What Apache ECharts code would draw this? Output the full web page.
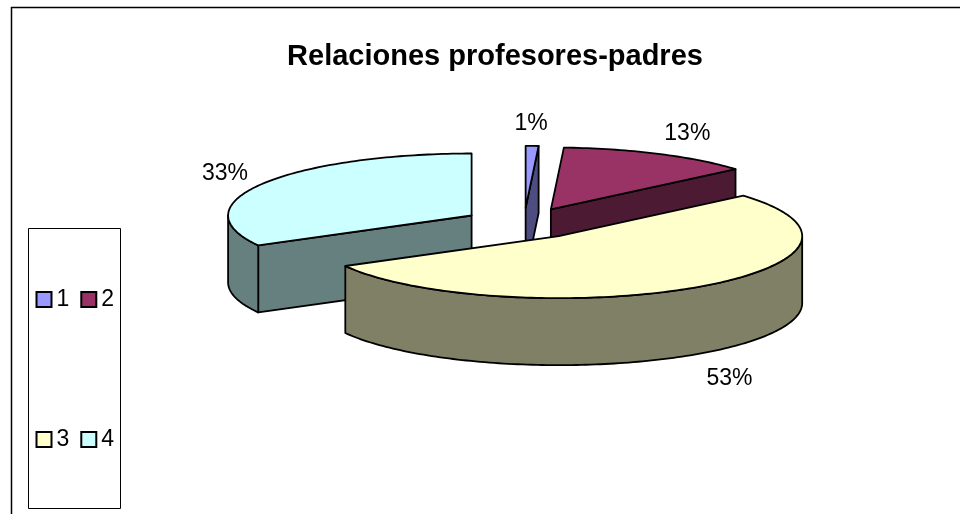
<!DOCTYPE html>
<html>
<head>
<meta charset="utf-8">
<style>html,body{margin:0;padding:0;background:#fff;overflow:hidden}#c{width:960px;height:514px}</style>
<script src="https://cdn.jsdelivr.net/npm/echarts@6/dist/echarts.min.js"></script>
</head>
<body>
<div id="c"></div>
<script>
var titleText = 'Relaciones profesores-padres';
var categories = ['1', '2', '3', '4'];
var values = [0.85, 12.85, 53.3, 33];
var colors = ['#9999FF', '#993366', '#FFFFCC', '#CCFFFF'];

// projection of the tilted pie
var geo = { cx: 524, cy: 223.4, rx: 243.5, ry: 62, depth: 67, explode: 0.25 };
var labelOffsets = [[-1, -22], [29, -20], [32, 25], [-37, -10]];
var FONT = '"Liberation Sans", Arial, sans-serif';

var total = values.reduce(function (a, b) { return a + b; }, 0);
var chart = echarts.init(document.getElementById('c'));

function sliceAngles(i, v) {
  var before = 0;
  for (var k = 0; k < i; k++) before += values[k];
  var a0 = before / total * Math.PI * 2;
  return [a0, a0 + v / total * Math.PI * 2];
}
function rim(apex, a, dy) {
  return [apex[0] + Math.sin(a) * geo.rx, apex[1] - Math.cos(a) * geo.ry + (dy || 0)];
}
function arcPts(apex, a0, a1, dy) {
  var n = Math.max(2, Math.ceil((a1 - a0) / 0.02)), pts = [];
  for (var i = 0; i <= n; i++) pts.push(rim(apex, a0 + (a1 - a0) * i / n, dy));
  return pts;
}
function apexOf(mid) {
  return [geo.cx + Math.sin(mid) * geo.rx * geo.explode, geo.cy - Math.cos(mid) * geo.ry * geo.explode];
}
function shade(c) {
  var p = echarts.color.parse(c);
  return 'rgb(' + Math.round(p[0] / 2) + ',' + Math.round(p[1] / 2) + ',' + Math.round(p[2] / 2) + ')';
}
function makeRender(i) {
  return function (params, api) {
    var v = api.value(0), ang = sliceAngles(i, v), a0 = ang[0], a1 = ang[1];
    var mid = (a0 + a1) / 2, apex = apexOf(mid);
    var top = colors[i], side = shade(top);
    var line = { stroke: '#000', lineWidth: 1.8, lineJoin: 'round' };
    function poly(points, fill) {
      return { type: 'polygon', shape: { points: points }, style: Object.assign({ fill: fill }, line) };
    }
    function face(a) {
      var p = rim(apex, a), d = geo.depth;
      return poly([apex, p, [p[0], p[1] + d], [apex[0], apex[1] + d]], side);
    }
    var kids = [];
    if (Math.sin(a0) < -1e-6) kids.push(face(a0));
    if (Math.sin(a1) > 1e-6) kids.push(face(a1));
    var w0 = Math.max(a0, Math.PI / 2), w1 = Math.min(a1, Math.PI * 1.5);
    if (w1 > w0) {
      kids.push(poly(arcPts(apex, w0, w1, 0).concat(arcPts(apex, w0, w1, geo.depth).reverse()), side));
    }
    kids.push(poly([apex].concat(arcPts(apex, a0, a1, 0)), top));
    var base = rim(apex, mid, Math.cos(mid) < 0 ? geo.depth : 0);
    kids.push({
      type: 'text', z2: 100,
      style: {
        x: base[0] + labelOffsets[i][0], y: base[1] + labelOffsets[i][1],
        text: Math.round(v / total * 100) + '%',
        fill: '#000', font: '23px ' + FONT, align: 'center', verticalAlign: 'middle'
      }
    });
    return { type: 'group', children: kids };
  };
}
function apexY(i) {
  var a = sliceAngles(i, values[i]);
  return apexOf((a[0] + a[1]) / 2)[1];
}
var series = categories.map(function (name, i) {
  return {
    type: 'custom', name: name, coordinateSystem: 'none', silent: true,
    z: 2 + apexY(i) / 1000, clip: false,
    itemStyle: { color: colors[i] },
    data: [{ value: [values[i]], name: name }],
    renderItem: makeRender(i)
  };
});
function legendRow(names, top) {
  return {
    left: 35.5, top: top, orient: 'horizontal', padding: 0, itemGap: 11, itemWidth: 15, itemHeight: 15,
    icon: 'rect', selectedMode: false, data: names,
    itemStyle: { borderColor: '#000', borderWidth: 2 },
    textStyle: { color: '#000', fontSize: 23, fontFamily: FONT, padding: [2, 0, 0, 0] }
  };
}
chart.setOption({
  animation: false,
  backgroundColor: '#fff',
  title: {
    text: titleText, left: 490, top: 37, textAlign: 'center',
    textStyle: { color: '#000', fontSize: 29, fontWeight: 'bold', fontFamily: FONT }
  },
  legend: [legendRow(categories.slice(0, 2), 288), legendRow(categories.slice(2, 4), 428)],
  graphic: [
    { type: 'rect', silent: true, shape: { x: 11.5, y: 7.5, width: 1000, height: 600 }, style: { fill: 'none', stroke: '#000', lineWidth: 1.5 } },
    { type: 'rect', silent: true, shape: { x: 28.5, y: 228.5, width: 92, height: 280 }, style: { fill: 'none', stroke: '#000', lineWidth: 1 } }
  ],
  series: series
});
</script>
</body>
</html>
